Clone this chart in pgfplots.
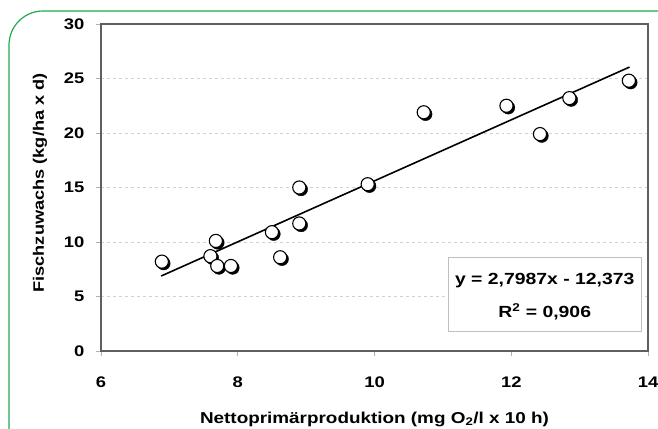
\documentclass[border=0pt]{standalone}
\usepackage{fontspec}
\setmainfont{Liberation Sans}[FakeStretch=1.2]
\newfontfamily\ylabfont{Liberation Sans}[FakeStretch=1.2]
\usepackage{pgfplots}
\pgfplotsset{compat=1.18}
\definecolor{frame}{RGB}{95,95,95}
\definecolor{border}{RGB}{30,170,80}
\begin{document}
\begin{tikzpicture}[x=1bp,y=1bp]
  % outer green card, only top and left edges are visible
  \draw[border, line width=1.2bp, rounded corners=34bp]
    (-92,-90) -- (-92,340) -- (580,340);
  \begin{axis}[
    at={(0,0)}, anchor=south west,
    scale only axis,
    width=547bp, height=327bp,
    xmin=6, xmax=14, ymin=0, ymax=30,
    xtick={6,8,...,14}, ytick={0,5,...,30},
    xtick pos=bottom, ytick pos=left,
    tick align=outside, major tick length=5bp,
    tick style={gray!60, line width=0.6bp},
    axis line style={draw=frame, line width=1.8bp},
    ymajorgrids,
    grid style={gray!35, dashed, line width=0.7bp},
    /pgf/number format/assume math mode=true,
    tick label style={font=\fontsize{15.4}{18}\selectfont\bfseries},
    yticklabel style={xshift=-8bp},
    xticklabel style={yshift=-17bp},
    xlabel={Nettoprimärproduktion (mg O\textsubscript{2}/l x 10 h)},
    ylabel={Fischzuwachs (kg/ha x d)},
    xlabel style={font=\fontsize{15.8}{18}\selectfont\bfseries,
      at={(axis description cs:0.5,0)}, anchor=base, yshift=-72bp},
    ylabel style={font=\fontsize{15.2}{18}\selectfont\bfseries,
      at={(axis description cs:-0.1115,0.514)}, anchor=center},
    clip=false,
  ]
    % regression line y = 2,7987x - 12,373
    \addplot[black, line width=1.6bp] coordinates {(6.88,6.88) (13.73,26.05)};
    % shadow of the markers
    \addplot[only marks, mark=*, mark size=6.6pt,
      mark options={fill=black, draw=black, xshift=1.8bp, yshift=-1.8bp}]
      coordinates {
      (6.89,8.2) (7.6,8.7) (7.68,10.1) (7.7,7.8) (7.9,7.8)
      (8.5,10.9) (8.62,8.6) (8.9,15.0) (8.9,11.7) (9.9,15.3)
      (10.72,21.9) (11.93,22.5) (12.42,19.9) (12.85,23.2) (13.72,24.8)
    };
    \addplot[only marks, mark=*, mark size=6.6pt,
      mark options={fill=white, draw=black, line width=1.1bp}]
      coordinates {
      (6.89,8.2) (7.6,8.7) (7.68,10.1) (7.7,7.8) (7.9,7.8)
      (8.5,10.9) (8.62,8.6) (8.9,15.0) (8.9,11.7) (9.9,15.3)
      (10.72,21.9) (11.93,22.5) (12.42,19.9) (12.85,23.2) (13.72,24.8)
    };
    \draw[gray!50, fill=white, line width=0.7bp]
      (axis cs:11.075,1.83) rectangle (axis cs:13.9,8.62);
    \node[font=\fontsize{16.2}{18}\selectfont\bfseries] at (axis cs:12.49,6.42)
      {y = 2,7987x - 12,373};
    \node[font=\fontsize{16.2}{18}\selectfont\bfseries] at (axis cs:12.49,3.58)
      {R\textsuperscript{2} = 0,906};
  \end{axis}
  \pgfresetboundingbox
  \useasboundingbox (-101,-77) rectangle (557,351);
\end{tikzpicture}
\end{document}
